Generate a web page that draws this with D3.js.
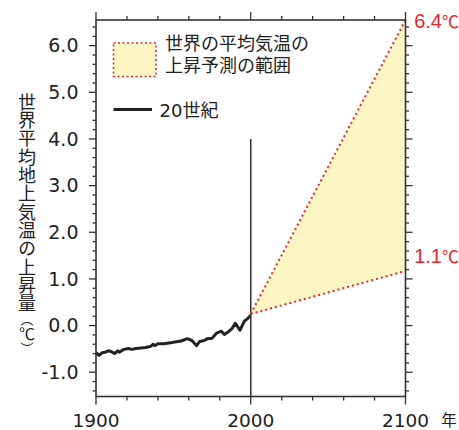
<!DOCTYPE html>
<html><head><meta charset="utf-8">
<script src="https://cdn.jsdelivr.net/npm/d3@7"></script>
<style>
html,body{margin:0;padding:0;background:#fff;}
svg{display:block;}
</style></head>
<body>
<svg id="chart" width="459" height="430"></svg>
<script>
// ---- data ----
const years = [1900,1902,1904,1906,1908,1910,1912,1914,1915,1918,1921,1923,1926,1929,1932,1935,1937,1938,1940,1944,1948,1951,1955,1959,1962,1965,1967,1970,1972,1975,1978,1981,1983,1986,1988,1990,1993,1996,1998,2000];
const anomalies = [-0.58,-0.64,-0.58,-0.57,-0.54,-0.56,-0.60,-0.54,-0.57,-0.51,-0.49,-0.51,-0.49,-0.48,-0.47,-0.45,-0.40,-0.43,-0.39,-0.39,-0.37,-0.35,-0.33,-0.28,-0.32,-0.43,-0.34,-0.32,-0.28,-0.27,-0.16,-0.12,-0.19,-0.12,-0.06,0.05,-0.10,0.10,0.15,0.22];
const projYears = [2000, 2100];
const projStart = 0.25;
const projUpper = 6.55;
const projLower = 1.17;
const upperLabel = "6.4";
const lowerLabel = "1.1";
const unitC = "℃";
const yTickLabels = ["-1.0","0.0","1.0","2.0","3.0","4.0","5.0","6.0"];
const yTickValues = [-1,0,1,2,3,4,5,6];
const xTickLabels = ["1900","2000","2100"];
const xTickValues = [1900,2000,2100];
const yearUnit = "年";
const yTitleMain = "世界平均地上気温の上昇量";
const yTitleUnit = ["（","℃","）"];
const legendRange = ["世界の平均気温の","上昇予測の範囲"];
const legendLine = "20世紀";
const markerYear = 2000;
const markerTop = 4.0;

// ---- drawing ----
const svg = d3.select("#chart");
const x = d3.scaleLinear().domain([1900,2100]).range([96,405.5]);
const y = d3.scaleLinear().domain([-1.52,6.55]).range([396.5,20]);
const axisColor = "#333";
const red = "#e8262a";
const fillY = "#fdf6c4";
const numFont = "'DejaVu Sans', 'Noto Sans CJK JP', sans-serif";
const labFont = "'Liberation Sans', Arial, sans-serif";
const cjkFont = "'Noto Sans CJK JP', sans-serif";

const x0 = x.range()[0], x1 = x.range()[1];
const yb = y.range()[0], yt = y.range()[1];

// projection polygon
svg.append("path")
  .attr("d", d3.line()([[x(projYears[0]), y(projStart)],[x(projYears[1]), y(projUpper)],[x(projYears[1]), y(projLower)]]) + "Z")
  .attr("fill", fillY).attr("stroke","none");

// 20th century line
svg.append("path")
  .datum(years.map((d,i)=>[d, anomalies[i]]))
  .attr("d", d3.line().x(d=>x(d[0])).y(d=>y(d[1])))
  .attr("fill","none").attr("stroke","#222").attr("stroke-width",3).attr("stroke-linejoin","round");

// vertical 2000 line
svg.append("line")
  .attr("x1", x(markerYear)).attr("x2", x(markerYear))
  .attr("y1", y(markerTop)).attr("y2", yb)
  .attr("stroke", axisColor).attr("stroke-width",1.5);

// red dotted bounds
[projUpper, projLower].forEach(v => {
  svg.append("line")
    .attr("x1", x(projYears[0])).attr("y1", y(projStart))
    .attr("x2", x(projYears[1])).attr("y2", y(v))
    .attr("stroke", red).attr("stroke-width",2).attr("stroke-dasharray","2,3");
});

// frame
svg.append("rect").attr("x",x0).attr("y",yt).attr("width",x1-x0).attr("height",yb-yt)
  .attr("fill","none").attr("stroke",axisColor).attr("stroke-width",1.6);

// y ticks (left and right)
const yMinor = d3.range(-7,33).map(i => +(i*0.2).toFixed(1));
yMinor.forEach(v => {
  const major = Math.abs(v - Math.round(v)) < 1e-6;
  const len = major ? 7 : 3.5;
  svg.append("line").attr("x1",x0-len).attr("x2",x0).attr("y1",y(v)).attr("y2",y(v))
    .attr("stroke",axisColor).attr("stroke-width",1.3);
  svg.append("line").attr("x1",x1).attr("x2",x1+len).attr("y1",y(v)).attr("y2",y(v))
    .attr("stroke",axisColor).attr("stroke-width",1.3);
});
// x ticks (top and bottom)
d3.range(1900,2101,20).forEach(yr => {
  const major = xTickValues.includes(yr);
  const len = major ? 8 : 4;
  svg.append("line").attr("x1",x(yr)).attr("x2",x(yr)).attr("y1",yb).attr("y2",yb+len)
    .attr("stroke",axisColor).attr("stroke-width",1.3);
  svg.append("line").attr("x1",x(yr)).attr("x2",x(yr)).attr("y1",yt).attr("y2",yt-len)
    .attr("stroke",axisColor).attr("stroke-width",1.3);
});

// y tick labels
yTickValues.forEach((v,i) => {
  svg.append("text").attr("x",78.5).attr("y",y(v)).attr("dy","0.36em")
    .attr("text-anchor","end").attr("font-family",numFont).attr("font-size",19)
    .attr("fill","#222").text(yTickLabels[i]);
});
// x tick labels
xTickValues.forEach((v,i) => {
  svg.append("text").attr("x",x(v)).attr("y",426.5)
    .attr("text-anchor","middle").attr("font-family",numFont).attr("font-size",18.5)
    .attr("fill","#222").text(xTickLabels[i]);
});
svg.append("text").attr("x",449).attr("y",425.5).attr("text-anchor","middle")
  .attr("font-family",cjkFont).attr("font-size",15.5).attr("fill","#222").text(yearUnit);

// right labels
[[upperLabel, 22],[lowerLabel, 257]].forEach(([t, cy]) => {
  const tx = svg.append("text").attr("x",459).attr("y",cy).attr("dy","0.36em")
    .attr("text-anchor","end").attr("fill",red);
  tx.append("tspan").attr("font-family",labFont).attr("font-size",20).text(t);
  tx.append("tspan").attr("font-family",cjkFont).attr("font-size",17).attr("dx",0).text(unitC);
});

// y title (vertical, one text)
const tt = svg.append("text").attr("x",27).attr("y",93)
  .style("writing-mode","vertical-rl").attr("font-family",cjkFont)
  .attr("font-size",18).attr("letter-spacing",0.33).attr("fill","#222");
tt.append("tspan").text(yTitleMain);
tt.append("tspan").attr("font-size",13).attr("letter-spacing",0).text(yTitleUnit[0]);
tt.append("tspan").attr("font-size",16).attr("letter-spacing",0).text(yTitleUnit[1]);
tt.append("tspan").attr("font-size",13).attr("letter-spacing",0).text(yTitleUnit[2]);

// legend
svg.append("rect").attr("x",113.5).attr("y",43).attr("width",42.5).attr("height",33.5)
  .attr("fill",fillY).attr("stroke",red).attr("stroke-width",1.6).attr("stroke-dasharray","2,2.5");
const lt = svg.append("text").attr("y",49.5).attr("dy","0.36em")
  .attr("font-family",cjkFont).attr("font-size",18).attr("fill","#222");
legendRange.forEach((t,i) => {
  lt.append("tspan").attr("x",165).attr("dy", i === 0 ? 0 : 22).text(t);
});
svg.append("line").attr("x1",113.5).attr("x2",152).attr("y1",109.5).attr("y2",109.5)
  .attr("stroke","#222").attr("stroke-width",3);
svg.append("text").attr("x",159.5).attr("y",111).attr("dy","0.36em")
  .attr("font-family",numFont).attr("font-size",18).attr("fill","#222").text(legendLine);
</script>
</body></html>
